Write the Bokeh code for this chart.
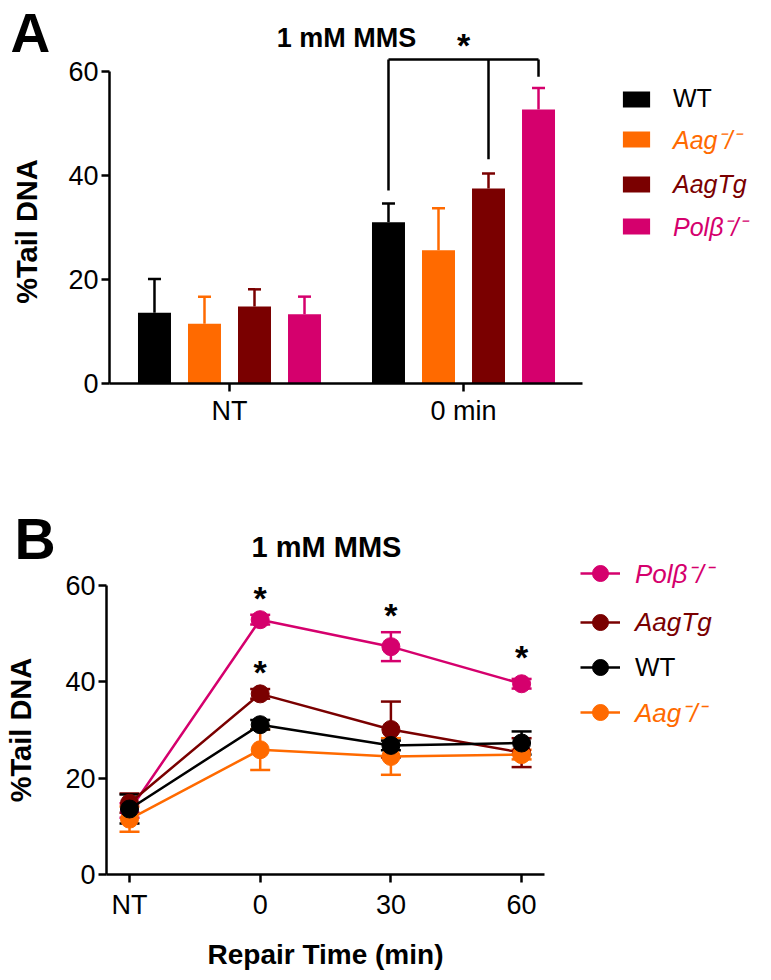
from bokeh.plotting import figure
from bokeh.models import (Range1d, FixedTicker, Whisker, TeeHead, ColumnDataSource,
                          Legend, LegendItem, Label)
from bokeh.layouts import column
from bokeh.embed import file_html
from bokeh.resources import INLINE
from bokeh.core.properties import value

FONT = "Liberation Sans"

# ---------------- data ----------------
genotypes = ["WT", "Aag⁻/⁻", "AagTg", "Polβ⁻/⁻"]
label_styles = ["normal", "italic", "italic", "italic"]
colors = ["#000000", "#FF6A00", "#7A0000", "#D5006D"]

# Panel A: bar chart
groups_a = ["NT", "0 min"]
wt_a = [13.6, 31.0]
wt_a_err = [6.5, 3.6]
aag_a = [11.5, 25.6]
aag_a_err = [5.2, 8.1]
aagtg_a = [14.8, 37.5]
aagtg_a_err = [3.3, 2.9]
polb_a = [13.3, 52.7]
polb_a_err = [3.4, 4.1]
series_a = [(wt_a, wt_a_err), (aag_a, aag_a_err), (aagtg_a, aagtg_a_err), (polb_a, polb_a_err)]

# significance bracket (group "0 min": WT, AagTg, Polβ)
bracket_group = 1
bracket_members = [0, 2, 3]
bracket_top = 62.3
bracket_leg_ends = [37.1, 43.1, 59.0]
star_a_y = 66.0

# Panel B: time course
time_labels = ["NT", "0", "30", "60"]
wt_b = [13.6, 31.1, 26.8, 27.3]
wt_b_err = [3.0, 1.0, 1.0, 2.4]
aag_b = [11.5, 25.9, 24.5, 24.9]
aag_b_err = [2.6, 4.2, 3.8, 1.0]
aagtg_b = [14.8, 37.5, 30.1, 25.3]
aagtg_b_err = [2.0, 1.0, 5.8, 3.0]
polb_b = [13.3, 52.9, 47.3, 39.6]
polb_b_err = [1.5, 1.0, 3.0, 1.0]
series_b = [(wt_b, wt_b_err), (aag_b, aag_b_err), (aagtg_b, aagtg_b_err), (polb_b, polb_b_err)]
legend_b_order = [3, 2, 0, 1]
draw_b_order = [3, 2, 1, 0]
stars_b_x = [1, 1, 2, 3]
stars_b_y = [57.9, 42.5, 54.3, 45.6]


def style_axes(p, tick_size):
    for ax in (p.xaxis[0], p.yaxis[0]):
        ax.axis_line_width = 2.5
        ax.major_tick_line_width = 2.5
        ax.major_tick_in = 0
        ax.major_tick_out = 8
        ax.minor_tick_line_color = None
        ax.major_label_text_font = FONT
        ax.major_label_text_font_size = tick_size
        ax.major_label_text_color = "black"
        ax.axis_label_text_font = FONT
        ax.axis_label_text_font_style = "bold"
        ax.axis_label_text_font_size = "29px"
        ax.axis_label_text_color = "black"
        ax.major_label_standoff = 3
    p.xgrid.visible = False
    p.ygrid.visible = False
    p.outline_line_color = None


# ================= Panel A =================
# the frame fills the whole figure; both axes sit at fixed data locations
pA = figure(width=771, height=442, x_range=Range1d(-0.9786, 2.3162), y_range=Range1d(-11.35, 73.65),
            output_backend="svg", toolbar_location=None,
            min_border_left=0, min_border_right=0, min_border_top=0, min_border_bottom=0)
pA.title.visible = False
style_axes(pA, "27px")
pA.xaxis.ticker = FixedTicker(ticks=list(range(len(groups_a))))
pA.xaxis.major_label_overrides = {i: g for i, g in enumerate(groups_a)}
pA.xaxis.bounds = (-0.5128, 1.51)
pA.xaxis.fixed_location = 0
pA.xaxis.major_label_standoff = 5
pA.yaxis.ticker = FixedTicker(ticks=[0, 20, 40, 60])
pA.yaxis.bounds = (0, 60)
pA.yaxis.fixed_location = -0.5128
pA.yaxis.axis_label = "%Tail  DNA"
pA.yaxis.axis_label_standoff = 22

step = 0.2137
bw = 0.141
offsets = [(j - 1.5) * step for j in range(4)]
bar_renderers = []
for j, (vals, errs) in enumerate(series_a):
    xs = [i + offsets[j] for i in range(len(groups_a))]
    src = ColumnDataSource(dict(x=xs, top=vals, up=[v + e for v, e in zip(vals, errs)]))
    r = pA.vbar(x="x", top="top", width=bw, source=src, fill_color=colors[j], line_color=None)
    bar_renderers.append(r)
    w = Whisker(base="x", lower="top", upper="up", source=src, dimension="height",
                line_color=colors[j], line_width=2.5, lower_head=None,
                upper_head=TeeHead(size=13, line_color=colors[j], line_width=2.5))
    pA.add_layout(w)

# bracket
bx = [bracket_group + offsets[m] for m in bracket_members]
pA.segment(x0=[bx[0]], y0=[bracket_top], x1=[bx[-1]], y1=[bracket_top], line_color="black", line_width=2.5)
pA.segment(x0=bx, y0=[bracket_top] * 3, x1=bx, y1=bracket_leg_ends, line_color="black", line_width=2.5)
pA.text(x=[bracket_group], y=[star_a_y], text=["*"], text_font=value(FONT), text_font_style="bold",
        text_font_size="34px", text_align="center", text_baseline="middle", y_offset=5)

pA.add_layout(Label(x=346, y=405, x_units="screen", y_units="screen", text="1 mM MMS",
                    text_font=FONT, text_font_style="bold", text_font_size="27px",
                    text_color="black", text_align="center", text_baseline="middle"))
pA.add_layout(Label(x=10, y=441, x_units="screen", y_units="screen", text="A",
                    text_font=FONT, text_font_style="bold", text_font_size="55px",
                    text_color="black", text_align="left", text_baseline="top"))

legA_rows = [98, 141, 183.5, 228]
for j in range(4):
    leg = Legend(items=[LegendItem(label=genotypes[j], renderers=[bar_renderers[j]])],
                 location=(619, 442 - legA_rows[j] - 15),
                 border_line_color=None, background_fill_alpha=0, padding=0, margin=0,
                 glyph_width=34, glyph_height=20, label_standoff=20, label_height=20,
                 label_text_font=FONT, label_text_font_size="25px",
                 label_text_font_style=label_styles[j], label_text_color=colors[j])
    pA.add_layout(leg)

# ================= Panel B =================
B_H = 538
pB = figure(width=771, height=B_H, x_range=Range1d(-0.987, 4.912), y_range=Range1d(-22.0, 89.68),
            output_backend="svg", toolbar_location=None,
            min_border_left=0, min_border_right=0, min_border_top=0, min_border_bottom=0)
pB.title.visible = False
style_axes(pB, "27px")
pB.xaxis.ticker = FixedTicker(ticks=list(range(len(time_labels))))
pB.xaxis.major_label_overrides = {i: t for i, t in enumerate(time_labels)}
pB.xaxis.bounds = (-0.176, 3.176)
pB.xaxis.fixed_location = 0
pB.xaxis.major_label_standoff = 7
pB.xaxis.axis_label = "Repair Time (min)"
pB.xaxis.axis_label_text_font_size = "28px"
pB.xaxis.axis_label_standoff = 16
pB.yaxis.ticker = FixedTicker(ticks=[0, 20, 40, 60])
pB.yaxis.bounds = (0, 60)
pB.yaxis.fixed_location = -0.176
pB.yaxis.axis_label = "%Tail DNA"
pB.yaxis.axis_label_standoff = 25

line_r = {}
mark_r = {}
xs_b = list(range(len(time_labels)))
for j in draw_b_order:
    vals, errs = series_b[j]
    src = ColumnDataSource(dict(x=xs_b, y=vals, lo=[v - e for v, e in zip(vals, errs)],
                                hi=[v + e for v, e in zip(vals, errs)]))
    w = Whisker(base="x", lower="lo", upper="hi", source=src, dimension="height",
                line_color=colors[j], line_width=2.5,
                lower_head=TeeHead(size=20, line_color=colors[j], line_width=2.5),
                upper_head=TeeHead(size=20, line_color=colors[j], line_width=2.5))
    pB.add_layout(w)
    line_r[j] = pB.line(x="x", y="y", source=src, line_color=colors[j], line_width=2.5)
    mark_r[j] = pB.scatter(x="x", y="y", source=src, marker="circle", size=18,
                           fill_color=colors[j], line_color=colors[j])

pB.text(x=stars_b_x, y=stars_b_y, text=["*"] * len(stars_b_x), text_font=value(FONT),
        text_font_style="bold", text_font_size="34px", text_align="center",
        text_baseline="middle", y_offset=2)

pB.add_layout(Label(x=326, y=434, x_units="screen", y_units="screen", text="1 mM MMS",
                    text_font=FONT, text_font_style="bold", text_font_size="29px",
                    text_color="black", text_align="center", text_baseline="middle"))
pB.add_layout(Label(x=14, y=442, x_units="screen", y_units="screen", text="B",
                    text_font=FONT, text_font_style="bold", text_font_size="57px",
                    text_color="black", text_align="left", text_baseline="middle"))

legB_rows = [573, 622, 667, 712]
for k, j in enumerate(legend_b_order):
    leg = Legend(items=[LegendItem(label=genotypes[j], renderers=[line_r[j], mark_r[j]])],
                 location=(580, (442 + B_H) - legB_rows[k] - 20),
                 border_line_color=None, background_fill_alpha=0, padding=0, margin=0,
                 glyph_width=40, glyph_height=40, label_standoff=15, label_height=40,
                 label_text_font=FONT, label_text_font_size="26px",
                 label_text_font_style=label_styles[j], label_text_color=colors[j])
    pB.add_layout(leg)

layout = column(pA, pB, spacing=0)
open("out.html", "w").write(file_html(layout, INLINE))
